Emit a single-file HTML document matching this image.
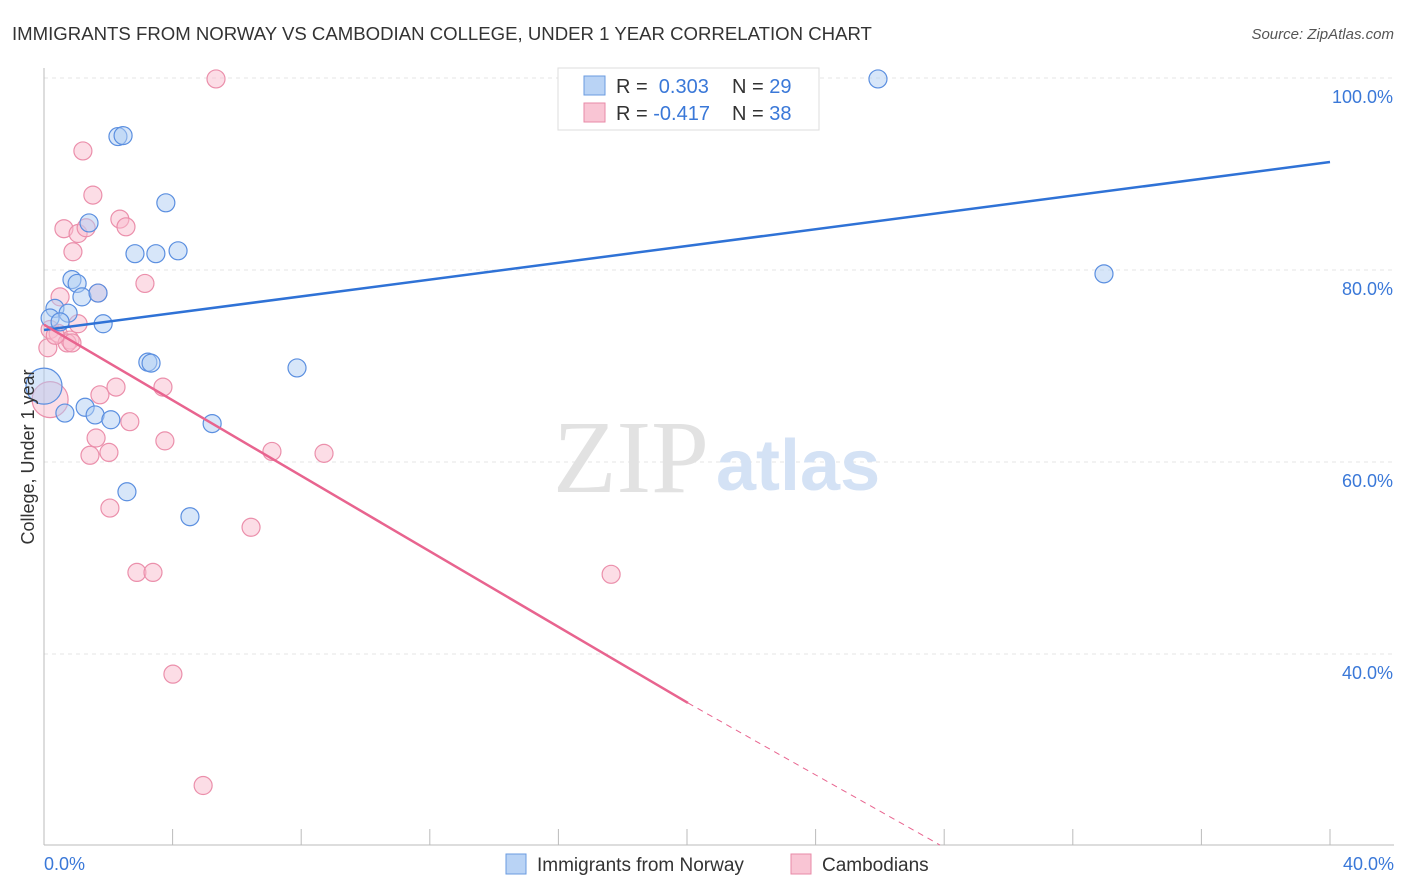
<!DOCTYPE html>
<html><head><meta charset="utf-8"><style>
body{margin:0;background:#fff;font-family:"Liberation Sans",sans-serif;}
svg{display:block}
</style></head><body>
<svg id="c" width="1406" height="892">
<text x="12" y="40" font-size="18.6" fill="#333">IMMIGRANTS FROM NORWAY VS CAMBODIAN COLLEGE, UNDER 1 YEAR CORRELATION CHART</text>
<text x="1394" y="39" font-size="15" fill="#555" text-anchor="end" font-style="italic">Source: ZipAtlas.com</text>
<g id="grid"></g>
<text x="553" y="492" font-size="104" fill="#e2e2e2" font-family="Liberation Serif">ZIP</text>
<text x="716" y="490" font-size="72" fill="#d4e2f5" font-weight="bold">atlas</text>
<g id="pts"></g>
<g id="lines"></g>
<text transform="translate(34,457) rotate(-90)" font-size="18" fill="#333" text-anchor="middle">College, Under 1 year</text>
<g>
<rect x="558" y="68" width="261" height="62" fill="#fff" stroke="#ddd"/>
<rect x="584" y="76" width="21" height="19" fill="#b9d3f5" stroke="#6a9be0"/>
<rect x="584" y="103" width="21" height="19" fill="#f9c5d4" stroke="#e88aa7"/>
<text x="616" y="93" font-size="20" fill="#333">R = <tspan fill="#3a78d8">&#160;0.303</tspan><tspan x="732">N = </tspan><tspan fill="#3a78d8">29</tspan></text>
<text x="616" y="120" font-size="20" fill="#333">R = <tspan fill="#3a78d8">-0.417</tspan><tspan x="732">N = </tspan><tspan fill="#3a78d8">38</tspan></text>
</g>
<g>
<rect x="506" y="854" width="20" height="20" fill="#b9d3f5" stroke="#6a9be0"/>
<text x="537" y="871" font-size="19" fill="#333">Immigrants from Norway</text>
<rect x="791" y="854" width="20" height="20" fill="#f9c5d4" stroke="#e88aa7"/>
<text x="822" y="871" font-size="19" fill="#333">Cambodians</text>
</g>
</svg>
<script>
const blueX=[0,0.34,0.19,0.75,0.5,0.87,1.03,1.18,1.68,1.84,1.4,2.3,2.46,3.79,2.83,3.48,4.17,3.23,3.33,7.87,1.28,0.65,1.59,2.08,5.23,2.58,4.54,25.94,32.97];
const blueY=[67.9,76.0,75.0,75.5,74.6,79.0,78.6,77.2,77.6,74.4,84.9,93.9,94.0,87.0,81.7,81.7,82.0,70.4,70.3,69.8,65.7,65.1,64.9,64.4,64.0,56.9,54.3,99.9,79.6];
const pinkX=[5.35,1.21,1.52,0.62,1.06,1.31,2.36,2.55,0.9,3.14,1.68,0.5,1.06,0.19,0.44,0.81,0.72,0.87,0.12,0.19,1.74,2.24,3.7,2.67,1.62,3.76,2.02,1.43,7.09,8.71,2.05,6.44,2.89,3.39,17.64,4.01,4.95,0.35];
const pinkY=[99.9,92.4,87.8,84.3,83.8,84.4,85.3,84.5,81.9,78.6,77.6,77.2,74.4,73.8,73.4,72.7,72.4,72.4,71.9,66.5,67.0,67.8,67.8,64.2,62.5,62.2,61.0,60.7,61.1,60.9,55.2,53.2,48.5,48.5,48.3,37.9,26.3,73.2];
const xTicks=[0,4,8,12,16,20,24,28,32,36,40];
const yTicks=[100,80,60,40];
const blueTrend=[[0,73.75],[40,91.25]];
const pinkTrend=[[0,74.3],[20.03,34.9]];
const pinkDash=[[20.03,34.9],[27.87,20.1]];
const X=v=>44+v/40*1286, Y=v=>78+(100-v)*9.6;
const NS="http://www.w3.org/2000/svg";
function mk(t,a,p){const e=document.createElementNS(NS,t);for(const k in a)e.setAttribute(k,a[k]);p.appendChild(e);return e;}
const g=document.getElementById('grid');
yTicks.forEach(v=>{
 const l=mk('line',{x1:44,x2:1394,y1:Y(v),y2:Y(v),stroke:'#e4e4e4','stroke-dasharray':'4,4'},g);
 
 
 const t=mk('text',{x:1393,y:Y(v)+25,'font-size':18,fill:'#3a78d8','text-anchor':'end'},g);t.textContent=v.toFixed(1)+'%';
 
 
});
mk('line',{x1:44,x2:44,y1:68,y2:845,stroke:'#bbb'},g);
mk('line',{x1:44,x2:1394,y1:845,y2:845,stroke:'#bbb'},g);
xTicks.forEach(v=>{const l=mk('line',{x1:X(v),x2:X(v),y1:829,y2:845,stroke:'#bbb'},g);
 
 });
[[0,'0.0%','start',44],[40,'40.0%','end',1394]].forEach(d=>{const t=mk('text',{x:d[3],y:870,'font-size':18,fill:'#3a78d8','text-anchor':d[2]},g);t.textContent=d[1];
 
 });
const p=document.getElementById('pts');
function dots(xs,ys,fill,stroke,name,bigIdx){xs.forEach((x,i)=>{const c=mk('circle',{cx:X(x),cy:Y(ys[i]),r:i===bigIdx?18:9,fill:fill,'fill-opacity':0.5,stroke:stroke,'stroke-width':1.2},p);
 
 });}
dots(pinkX,pinkY,'#f9bccd','#eb8fab','cambodian-point',19);
dots(blueX,blueY,'#b0cdf3','#5b8fe0','norway-point',0);
const L=document.getElementById('lines');
function ln(d,col,dash,name){const l=mk('line',{x1:X(d[0][0]),y1:Y(d[0][1]),x2:X(d[1][0]),y2:Y(d[1][1]),stroke:col,'stroke-width':dash?1:2.5},L);if(dash)l.setAttribute('stroke-dasharray','6,5');
 
 }
ln(blueTrend,'#2f72d6',false,'norway-trendline');
ln(pinkTrend,'#e8648f',false,'cambodian-trendline');
ln(pinkDash,'#e8648f',true,'cambodian-trendline-extension');
</script>
</body></html>
